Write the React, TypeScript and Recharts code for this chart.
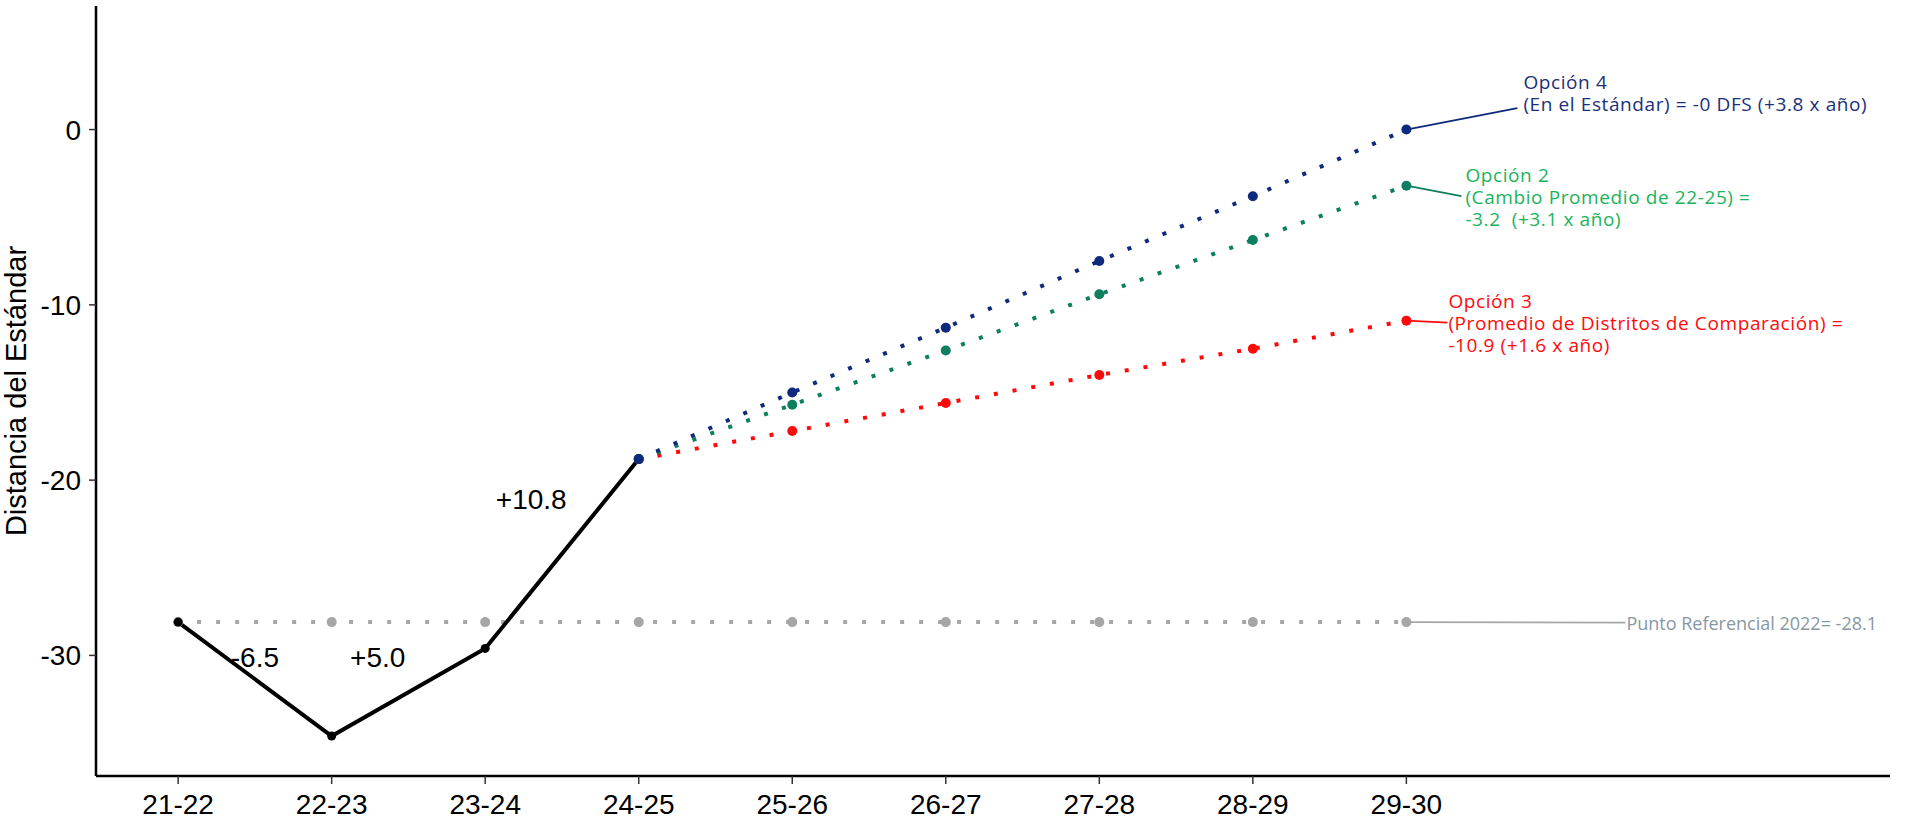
import React from "react";
import { LineChart, Line, XAxis, YAxis, ReferenceDot } from "recharts";

const periods = ["21-22", "22-23", "23-24", "24-25", "25-26", "26-27", "27-28", "28-29", "29-30"];
const actual = [-28.1, -34.6, -29.6, -18.8, null, null, null, null, null];
const option4 = [null, null, null, -18.8, -15.0, -11.3, -7.5, -3.8, 0];
const option2 = [null, null, null, -18.8, -15.7, -12.6, -9.4, -6.3, -3.2];
const option3 = [null, null, null, -18.8, -17.2, -15.6, -14.0, -12.5, -10.9];
const baseline = [-28.1, -28.1, -28.1, -28.1, -28.1, -28.1, -28.1, -28.1, -28.1];

// year-over-year change labels, placed in data units
const changeLabels = ["-6.5", "+5.0", "+10.8"];
const changeX = [0.5, 1.3, 2.3];
const changeY = [-30.1, -30.1, -21.1];

const option4Text = ["Opción 4", "(En el Estándar) = -0 DFS (+3.8 x año)"];
const option2Text = ["Opción 2", "(Cambio Promedio de 22-25) =", "-3.2  (+3.1 x año)"];
const option3Text = ["Opción 3", "(Promedio de Distritos de Comparación) =", "-10.9 (+1.6 x año)"];
const baselineText = ["Punto Referencial 2022= -28.1"];

const yTicks = [-30, -20, -10, 0];

const data = periods.map((p, i) => ({
  x: i,
  period: p,
  actual: actual[i],
  option4: option4[i],
  option2: option2[i],
  option3: option3[i],
  baseline: baseline[i],
}));

const NAVY = "#0e2a7c";
const GREEN_LINE = "#0b7f5f";
const GREEN_TEXT = "#1bb35a";
const RED = "#ff0a0a";
const GREY = "#a6a6a6";
const GREY_TEXT = "#8798a3";
const AXIS_FONT = "'Liberation Sans', Arial, sans-serif";
const NOTE_FONT = "'Open Sans', 'Noto Sans', sans-serif";

type NoteStyle = {
  lines: string[];
  dotColor: string;
  lineColor: string;
  textColor: string;
  dx: number;
  dy: number;
  textDx: number;
  firstLine: number;
  size?: number;
  spacing?: number;
};

// dot renderer that also draws the end-of-line annotation on the last period
function makeDot(r: number, note?: NoteStyle) {
  return (props: any) => {
    const { cx, cy, index } = props;
    if (cx == null || cy == null || isNaN(cy)) return <g key={`d-${index}`} />;
    const isLast = index === periods.length - 1;
    const size = note?.size ?? 19;
    return (
      <g key={`d-${index}`}>
        <circle cx={cx} cy={cy} r={r} fill={note ? note.dotColor : "#000"} />
        {note && isLast && (
          <g>
            <line
              x1={cx}
              y1={cy}
              x2={cx + note.dx}
              y2={cy + note.dy}
              stroke={note.lineColor}
              strokeWidth={1.8}
            />
            <text
              fontFamily={NOTE_FONT}
              fontSize={size}
              letterSpacing={note.spacing ?? 0.6}
              fill={note.textColor}
              style={{ whiteSpace: "pre" }}
            >
              {note.lines.map((l, k) => (
                <tspan key={k} x={cx + note.textDx} y={cy + note.firstLine + k * 22 + size * 0.36}>
                  {l}
                </tspan>
              ))}
            </text>
          </g>
        )}
      </g>
    );
  };
}

export default function App() {
  return (
    <div style={{ position: "absolute", left: 0, top: 0, width: 1911, height: 822, background: "#fff" }}>
      <LineChart width={1911} height={822} data={data} margin={{ top: 6, right: 21, bottom: 0, left: 0 }}>
        <XAxis
          dataKey="x"
          type="number"
          domain={[-0.535, 11.15]}
          ticks={[0, 1, 2, 3, 4, 5, 6, 7, 8]}
          tickFormatter={(v: number) => periods[v]}
          height={46}
          tickSize={8}
          tickMargin={10}
          axisLine={{ stroke: "#000", strokeWidth: 2.5 }}
          tickLine={{ stroke: "#333", strokeWidth: 1.5 }}
          tick={{ fill: "#000", fontSize: 28, fontFamily: AXIS_FONT }}
        />
        <YAxis
          type="number"
          domain={[-36.88, 7.05]}
          ticks={yTicks}
          width={96}
          tickSize={7}
          tickMargin={8}
          axisLine={{ stroke: "#000", strokeWidth: 2.5 }}
          tickLine={{ stroke: "#333", strokeWidth: 1.5 }}
          tick={{ fill: "#000", fontSize: 28, fontFamily: AXIS_FONT }}
          label={{
            value: "Distancia del Estándar",
            angle: -90,
            position: "insideLeft",
            dx: 11,
            dy: 0,
            style: { textAnchor: "middle", fill: "#000", fontSize: 29, fontFamily: AXIS_FONT },
          }}
        />
        <Line
          dataKey="baseline"
          stroke={GREY}
          strokeWidth={4}
          strokeDasharray="4 15"
          isAnimationActive={false}
          dot={makeDot(5, {
            lines: baselineText,
            dotColor: GREY,
            lineColor: GREY,
            textColor: GREY_TEXT,
            dx: 219,
            dy: 0.5,
            textDx: 220,
            firstLine: 1,
            size: 18,
            spacing: 0,
          })}
          activeDot={false}
        />
        <Line
          dataKey="actual"
          stroke="#000"
          strokeWidth={4}
          isAnimationActive={false}
          dot={makeDot(4.5)}
          activeDot={false}
        />
        <Line
          dataKey="option3"
          stroke={RED}
          strokeWidth={4}
          strokeDasharray="4 15"
          isAnimationActive={false}
          dot={makeDot(5, {
            lines: option3Text,
            dotColor: RED,
            lineColor: RED,
            textColor: RED,
            dx: 41,
            dy: 2,
            textDx: 42,
            firstLine: -19,
          })}
          activeDot={false}
        />
        <Line
          dataKey="option2"
          stroke={GREEN_LINE}
          strokeWidth={4}
          strokeDasharray="4 15"
          isAnimationActive={false}
          dot={makeDot(5, {
            lines: option2Text,
            dotColor: GREEN_LINE,
            lineColor: GREEN_LINE,
            textColor: GREEN_TEXT,
            dx: 55,
            dy: 10.4,
            textDx: 59,
            firstLine: -10.6,
          })}
          activeDot={false}
        />
        <Line
          dataKey="option4"
          stroke={NAVY}
          strokeWidth={4}
          strokeDasharray="4 15"
          isAnimationActive={false}
          dot={makeDot(5, {
            lines: option4Text,
            dotColor: NAVY,
            lineColor: NAVY,
            textColor: "#1b2f7a",
            dx: 111,
            dy: -21.5,
            textDx: 117,
            firstLine: -47.5,
          })}
          activeDot={false}
        />
        {changeLabels.map((t, i) => (
          <ReferenceDot
            key={t}
            x={changeX[i]}
            y={changeY[i]}
            r={0}
            fill="none"
            stroke="none"
            label={{ value: t, position: "center", fill: "#000", fontSize: 28, fontFamily: AXIS_FONT }}
          />
        ))}
      </LineChart>
    </div>
  );
}
